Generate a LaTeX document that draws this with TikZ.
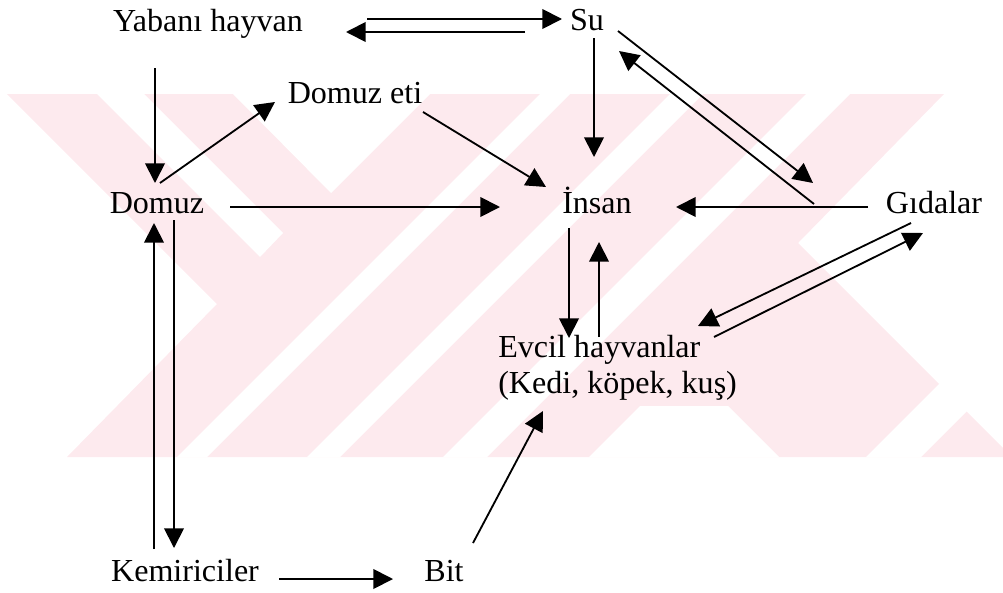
\documentclass[tikz,border=0pt]{standalone}
\usepackage{fontspec}
\setmainfont{Liberation Serif}
\usetikzlibrary{arrows.meta}
\definecolor{wmpink}{RGB}{253,234,238}
\tikzset{
    term/.style={inner sep=0pt, anchor=base, font=\fontsize{22.8}{24.9}\selectfont},
    arrow/.style={line width=1.3pt, -{Triangle[length=14pt, width=14pt]}},
    wmark/.style={fill=wmpink, draw=none},
    wgap/.style={fill=white, draw=none}
}
\begin{document}
\begin{tikzpicture}[x=0.025cm, y=-0.025cm]
    \useasboundingbox (0,0) rectangle (1003,592);

    % Watermark in the background
    \path[wmark] (7,94) -- (944,94) -- (798,243) -- (1003,448) -- (1003,457) -- (67,457) -- (217,304) -- cycle;
    \path[wgap] (97,94) -- (144,94) -- (283,233) -- (260,257) -- cycle;
    \path[wgap] (233,94) -- (430,94) -- (331,193) -- cycle;
    \path[wgap] (540,94) -- (570,94) -- (207,457) -- (177,457) -- cycle;
    \path[wgap] (670,94) -- (703,94) -- (340,457) -- (307,457) -- cycle;
    \path[wgap] (806,94) -- (850,94) -- (487,457) -- (443,457) -- cycle;
    \path[wgap] (589,457) -- (640,406) -- (728,406) -- (779,457) -- cycle;
    \path[wgap] (866,457) -- (921,457) -- (1003,375) -- (1003,320) -- cycle;

    % Terms
    \node[term] (yaban) at (208,31) {Yabanı hayvan};
    \node[term] (su) at (587,30) {Su};
    \node[term] (eti) at (355,103) {Domuz eti};
    \node[term] (domuz) at (157,213) {Domuz};
    \node[term] (insan) at (597,213) {İnsan};
    \node[term] (gida) at (934,213) {Gıdalar};
    \node[term, anchor=base west, align=left] (evcil) at (498,393) {Evcil hayvanlar\\(Kedi, köpek, kuş)};
    \node[term] (kemir) at (185,581) {Kemiriciler};
    \node[term] (bit) at (444,581) {Bit};

    % Connections
    \draw[arrow] ([shift={(159,-12)}]yaban.base) -- ([shift={(-25,-11)}]su.base);
    \draw[arrow] ([shift={(-62,2)}]su.base) -- ([shift={(138,1)}]yaban.base);
    \draw[arrow] ([shift={(-53,37)}]yaban.base) -- ([shift={(-2,-30)}]domuz.base);
    \draw[arrow] ([shift={(3,-30)}]domuz.base) -- ([shift={(-80,-1)}]eti.base);
    \draw[arrow] ([shift={(68,9)}]eti.base) -- ([shift={(-51,-26)}]insan.base);
    \draw[arrow] ([shift={(73,-6)}]domuz.base) -- ([shift={(-97,-6)}]insan.base);
    \draw[arrow] ([shift={(7,8)}]su.base) -- ([shift={(-3,-56)}]insan.base);
    \draw[arrow] ([shift={(31,1)}]su.base) -- ([shift={(-121,-30)}]gida.base);
    \draw[arrow] ([shift={(-120,-9)}]gida.base) -- ([shift={(32,21)}]su.base);
    \draw[arrow] ([shift={(-66,-6)}]gida.base) -- ([shift={(79,-6)}]insan.base);
    \draw[arrow] ([shift={(-28,15)}]insan.base) -- ([shift={(71,-55)}]evcil.base west);
    \draw[arrow] ([shift={(101,-56)}]evcil.base west) -- ([shift={(2,29)}]insan.base);
    \draw[arrow] ([shift={(-23,10)}]gida.base) -- ([shift={(200,-67)}]evcil.base west);
    \draw[arrow] ([shift={(216,-56)}]evcil.base west) -- ([shift={(-11,20)}]gida.base);
    \draw[arrow] ([shift={(17,7)}]domuz.base) -- ([shift={(-11,-33)}]kemir.base);
    \draw[arrow] ([shift={(-31,-32)}]kemir.base) -- ([shift={(-3,10)}]domuz.base);
    \draw[arrow] ([shift={(94,-2)}]kemir.base) -- ([shift={(-51,-2)}]bit.base);
    \draw[arrow] ([shift={(29,-38)}]bit.base) -- ([shift={(45,18)}]evcil.base west);

\end{tikzpicture}
\end{document}
